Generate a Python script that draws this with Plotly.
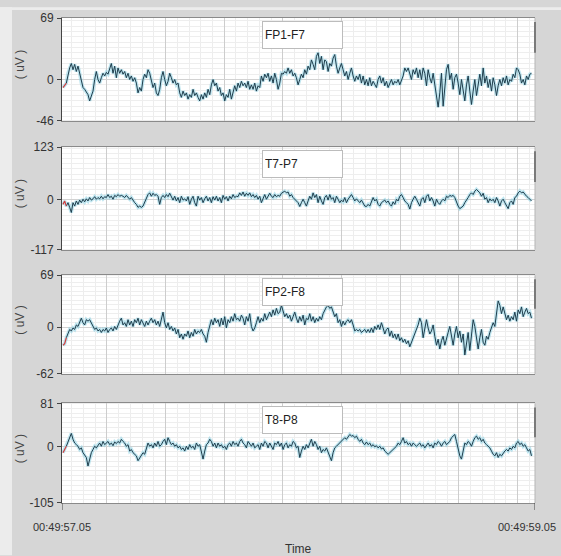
import numpy as np
import plotly.graph_objects as go

# ---------------- data ----------------
T_START_LABEL = "00:49:57.05"
T_END_LABEL = "00:49:59.05"
DURATION = 2.0          # seconds shown
SAMPLE_DT = 0.00705     # seconds between samples
T_OFFSET = 0.0042       # time of first sample

channels = ["FP1-F7", "T7-P7", "FP2-F8", "T8-P8"]
y_min = [-46, -117, -62, -105]
y_max = [69, 123, 69, 81]

fp1_f7 = [-9,-6,-4,7,13,18,11,17,9,15,7,-4,-9,-11,-14,-17,-24,-17,-13,0,9,0,-4,2,7,4,8,6,13,18,7,15,2,13,7,11,6,9,2,7,
          0,4,-2,2,-4,-15,-9,-13,0,6,2,11,7,0,-9,-4,-15,-18,-11,2,9,0,-7,-2,7,2,-4,0,-6,-4,-15,-20,-13,-18,-15,-22,-17,-20,-11,-18,
          -15,-20,-24,-17,-22,-15,-20,-11,-17,-6,0,-7,-4,-13,-9,-18,-15,-24,-17,-20,-11,-22,-15,-7,-13,-4,-9,-2,-7,-4,-9,-2,-11,-6,-11,-4,
          -13,-7,-9,4,-2,6,2,7,-2,4,-4,7,0,-11,-4,7,6,9,7,13,7,11,4,7,2,-6,0,6,2,11,6,15,11,22,17,11,26,30,18,26,
          11,22,20,9,18,15,24,28,15,7,13,18,11,4,9,0,7,13,4,-2,4,0,6,-4,4,-6,0,-7,2,-7,-2,-6,-9,0,4,-4,2,-7,-2,-9,
          -4,0,-6,-2,-4,0,-6,0,4,13,9,13,7,0,11,6,13,2,11,0,13,7,-7,11,2,-4,7,-7,-18,-31,-15,7,-30,-7,11,17,0,7,-11,2,
          6,-4,-17,0,-11,-24,-6,4,-13,-28,-13,0,-18,-4,6,-7,13,-4,4,-9,0,-13,2,-6,-18,-7,0,-7,2,-4,4,-6,0,-2,6,2,13,11,
          6,-4,0,-6,4,0,6,7]

t7_p7 = [-11,-3,-15,-7,-18,-30,-7,-15,-3,-11,-1,-7,1,-5,2,-3,5,-1,2,7,1,5,2,8,2,7,5,12,5,8,1,10,7,12,8,10,8,5,10,5,
         1,5,-3,-7,-11,-18,-15,-18,-15,-7,5,12,16,8,15,10,12,8,-11,5,10,5,12,7,15,5,-1,8,-3,5,-7,8,-1,2,-3,7,-11,1,8,-7,
         -15,8,-1,5,-7,2,8,-3,5,-7,7,-1,8,-3,5,-7,10,1,7,-3,8,2,12,5,8,7,16,10,18,8,15,10,16,7,12,5,10,1,8,-7,
         5,12,1,10,15,8,5,12,7,10,8,15,18,20,16,18,8,12,5,2,-3,-7,-16,-7,1,-7,-15,-3,8,1,16,5,12,-7,8,-3,-11,5,
         10,-1,12,1,5,-7,8,1,-7,-1,-5,5,-7,1,8,12,5,-3,2,-3,-7,-1,-7,-15,-16,-11,-15,-5,5,-3,1,-11,-15,-7,-3,-1,-7,-3,
         -11,-15,-5,-11,1,-3,8,12,5,-3,-7,-11,-22,-7,1,8,1,-7,-15,1,5,-7,8,12,-3,5,-3,-15,1,-7,-11,-3,1,-3,8,5,10,8,
         10,5,-7,-15,-21,-18,-15,-7,1,5,12,16,12,20,24,20,16,8,15,1,5,-7,2,-3,1,-7,5,-3,-15,-3,1,-7,-15,-21,-7,-3,-11,5,
         8,16,20,16,18,12,8,5,1,-3]

fp2_f8 = [-24,-22,-14,-7,-3,-5,-1,-3,3,1,8,12,6,3,10,8,10,6,1,-3,-1,-5,-3,-7,-3,-5,-1,-7,-3,-1,-5,1,-3,3,8,12,3,6,1,10,
          3,8,1,10,6,12,3,10,6,1,8,3,8,12,6,10,3,8,1,12,20,6,-1,6,-3,1,-5,-1,-9,-3,-14,-9,-16,-9,-12,-5,-14,-7,-12,-3,
          -9,-5,-7,-3,-9,-12,-20,-7,1,10,3,12,6,10,1,12,3,14,-1,10,6,14,8,18,10,12,8,16,12,3,14,8,18,1,-5,-1,6,14,
          6,12,8,18,10,16,20,14,23,16,25,18,20,29,20,14,18,12,16,8,14,20,12,6,14,8,16,3,12,10,18,8,14,6,12,8,14,10,
          18,23,27,29,25,27,20,14,18,6,10,1,8,3,8,10,6,10,3,-5,-3,-5,-3,-7,-5,-3,-7,-3,-7,-1,-7,1,-3,3,-3,6,-1,-9,
          -3,-1,-12,-5,-14,-9,-16,-9,-18,-14,-20,-16,-22,-18,-26,-20,-14,-7,-1,3,12,6,-14,1,10,-1,-9,-5,3,-12,-24,-16,-29,-18,-12,-24,-14,-7,
          1,-14,-24,-9,1,-14,-5,-20,-9,-37,-18,-7,-31,-7,10,1,-12,-29,-14,-3,-20,-24,-12,-16,-7,-1,6,1,18,35,29,18,27,20,10,16,
          8,14,10,20,8,23,18,27,14,20,25,18,20,12]

t8_p8 = [-11,-5,1,10,17,25,14,7,4,1,-5,-2,-11,-17,-20,-36,-23,-11,-5,1,-2,4,7,1,10,4,7,10,4,7,2,9,6,10,7,14,10,7,1,4,
         -8,-5,-11,-14,-17,-26,-20,-17,-11,-14,-5,7,1,4,-2,7,1,10,1,4,10,14,4,17,10,4,7,1,4,-2,1,-5,-2,-8,1,-5,4,-2,1,-5,
         7,1,4,-8,-23,-8,4,7,14,10,1,7,-2,7,1,4,-2,1,-5,4,7,1,10,4,7,1,10,14,7,4,-2,10,4,1,7,-2,1,4,-5,7,
         1,10,7,-2,7,1,-5,7,4,10,1,7,-5,4,7,-2,4,1,10,7,-2,1,-20,-8,1,-5,4,-2,7,14,1,10,4,-5,1,-11,-5,-8,
         -2,-11,-17,-26,-11,-2,1,4,7,10,14,17,14,20,23,20,21,17,20,14,10,14,7,4,9,4,7,1,4,0,2,-2,1,-4,-2,-8,-11,-14,
         -11,-8,-5,-2,1,7,4,10,17,7,10,4,7,1,7,4,1,4,7,1,4,-2,4,7,1,4,-2,7,4,10,7,1,7,10,4,7,10,17,20,
         23,10,-5,-17,-23,-8,7,4,10,7,1,10,17,20,14,17,10,14,7,4,1,-2,-8,-14,-17,-11,-20,-14,-17,-11,-8,-5,-8,-2,-5,1,-2,7,
         10,4,7,1,4,-2,-8,-5,-17]

signals = [fp1_f7, t7_p7, fp2_f8, t8_p8]

# ---------------- styling / layout ----------------
FONT = "Liberation Sans, Arial, sans-serif"
BG = "#d6d6d6"
STRIP = "#ececec"
domains = [(0.7886, 1.0), (0.5224, 0.7337), (0.2663, 0.4695), (0.0, 0.2053)]
y_minor_step = [6, 12, 6, 9]
N_RED = 3

major_x = [0.19 + 0.248 * k for k in range(8)]

fig = go.Figure()
for i, (name, sig) in enumerate(zip(channels, signals)):
    n = len(sig)
    t = T_OFFSET + SAMPLE_DT * np.arange(n)
    xa = "x" if i == 0 else f"x{i+1}"
    ya = "y" if i == 0 else f"y{i+1}"
    fig.add_trace(go.Scatter(x=t, y=sig, mode="lines", xaxis=xa, yaxis=ya,
                             line=dict(color="rgba(140,210,228,0.55)", width=3.5),
                             hoverinfo="skip", showlegend=False))
    fig.add_trace(go.Scatter(x=t[N_RED - 1:], y=sig[N_RED - 1:], mode="lines", xaxis=xa, yaxis=ya,
                             line=dict(color="#1f3d4c", width=1),
                             hoverinfo="skip", showlegend=False, name=name))
    fig.add_trace(go.Scatter(x=t[:N_RED], y=sig[:N_RED], mode="lines", xaxis=xa, yaxis=ya,
                             line=dict(color="#d23c3c", width=1.2),
                             hoverinfo="skip", showlegend=False))

layout = dict(
    width=561, height=556,
    margin=dict(l=62, r=26, t=11, b=53),
    paper_bgcolor=BG, plot_bgcolor="white",
    font=dict(family=FONT, size=12, color="#333"),
    showlegend=False,
)

annotations = []
shapes = [
    # light strips along the left and top edges of the window
    dict(type="rect", xref="paper", yref="paper", x0=-0.1311, x1=-0.1057, y0=-0.1077, y1=1.0224,
         fillcolor=STRIP, line=dict(width=0), layer="below"),
    dict(type="rect", xref="paper", yref="paper", x0=-0.1311, x1=1.055, y0=1.0163, y1=1.0224,
         fillcolor=STRIP, line=dict(width=0), layer="below"),
]
for i in range(4):
    sfx = "" if i == 0 else str(i + 1)
    tickvals = [0.0] + major_x + [DURATION]
    layout["xaxis" + sfx] = dict(
        domain=[0, 1], anchor="y" + sfx, range=[0, DURATION],
        tickmode="array", tickvals=tickvals,
        showticklabels=False, ticks="",
        showgrid=True, gridcolor="#cdcdcd", gridwidth=1,
        minor=dict(tick0=0.19, dtick=0.0496, showgrid=True, gridcolor="#ededed", gridwidth=1),
        showline=True, mirror=True, linecolor="#8a8a8a", linewidth=1,
        zeroline=False, fixedrange=True,
    )
    layout["yaxis" + sfx] = dict(
        domain=list(domains[i]), anchor="x" + sfx,
        range=[y_min[i], y_max[i]],
        tickmode="array", tickvals=[y_min[i], 0, y_max[i]],
        ticktext=[str(y_min[i]), "0", str(y_max[i])],
        ticks="outside", ticklen=4, tickcolor="#444", ticklabelstandoff=1,
        showgrid=True, gridcolor="#d2d2d2", gridwidth=1,
        minor=dict(tick0=0, dtick=y_minor_step[i], showgrid=True, gridcolor="#eeeeee", gridwidth=1),
        showline=True, linecolor="#444", linewidth=1,
        zeroline=False, fixedrange=True,
        tickfont=dict(family=FONT, size=12, color="#333"),
    )
    # channel name box
    annotations.append(dict(
        text=channels[i], xref="x" + sfx + " domain", yref="y" + sfx + " domain",
        x=0.4228, y=0.97, xanchor="left", yanchor="top", showarrow=False,
        width=75, height=22, align="left", valign="middle",
        bgcolor="white", bordercolor="#bcbcbc", borderwidth=1, borderpad=2,
        font=dict(family=FONT, size=12, color="#222"),
    ))
    # unit label
    annotations.append(dict(
        text="( uV )", xref="paper", yref="y" + sfx + " domain",
        x=-0.0888, y=0.55, xanchor="center", yanchor="middle", showarrow=False,
        textangle=-90, font=dict(family=FONT, size=12, color="#444"),
    ))
    # right edge and scroll marker
    shapes.append(dict(type="line", xref="x" + sfx + " domain", yref="y" + sfx + " domain",
                       x0=1, x1=1, y0=0, y1=1, line=dict(color="#b5b5b5", width=1)))
    shapes.append(dict(type="line", xref="x" + sfx + " domain", yref="y" + sfx + " domain",
                       x0=1, x1=1, y0=0.66, y1=0.96, line=dict(color="#7a7a7a", width=2)))

# end tick marks on time axis
for xv in (0.0, DURATION):
    shapes.append(dict(type="line", xref="x4", yref="y4 domain", x0=xv, x1=xv, y0=0, y1=-0.07,
                       line=dict(color="#444", width=1)))

# time labels under the bottom panel
annotations.append(dict(text=T_START_LABEL, xref="x4", yref="paper", x=0.0, y=-0.0488,
                        xanchor="center", yanchor="middle", showarrow=False,
                        font=dict(family=FONT, size=11, color="#333")))
annotations.append(dict(text=T_END_LABEL, xref="paper", yref="paper", x=1.0486, y=-0.0488,
                        xanchor="right", yanchor="middle", showarrow=False,
                        font=dict(family=FONT, size=11, color="#333")))
annotations.append(dict(text="Time", xref="paper", yref="paper", x=0.5, y=-0.0955,
                        xanchor="center", yanchor="middle", showarrow=False,
                        font=dict(family=FONT, size=12, color="#333")))

layout["annotations"] = annotations
layout["shapes"] = shapes
fig.update_layout(**layout)

POST = ("document.documentElement.style.margin='0';document.body.style.margin='0';"
        "document.body.style.overflow='hidden';"
        "var d=document.getElementById('{plot_id}');"
        "d.style.position='fixed';d.style.top='0px';d.style.left='0px';")
fig.write_html("out.html", config={"displayModeBar": False}, post_script=POST)
